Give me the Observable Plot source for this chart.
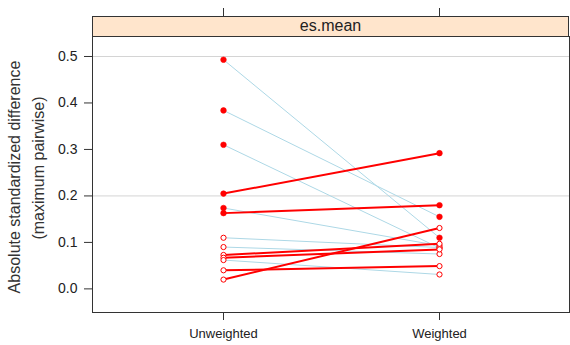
<!DOCTYPE html>
<html>
<head>
<meta charset="utf-8">
<script src="https://cdn.jsdelivr.net/npm/d3@7"></script>
<script src="https://cdn.jsdelivr.net/npm/@observablehq/plot@0.6"></script>
<style>
  html, body { margin: 0; padding: 0; background: #fff; }
  #chart { width: 570px; height: 345px; }
  svg { font-family: "Liberation Sans", Arial, sans-serif; }
</style>
</head>
<body>
<div id="chart"></div>
<script>
// ---- data ----
const categories = ["Unweighted", "Weighted"];
const unweighted = [0.493, 0.384, 0.310, 0.205, 0.174, 0.163, 0.110, 0.090, 0.073, 0.067, 0.062, 0.040, 0.020];
const weighted   = [0.110, 0.155, 0.088, 0.292, 0.093, 0.180, 0.089, 0.075, 0.097, 0.085, 0.031, 0.049, 0.131];
const unweightedSig = [1, 1, 1, 1, 1, 1, 0, 0, 0, 0, 0, 0, 0];
const weightedSig   = [1, 1, 0, 1, 0, 1, 0, 0, 0, 0, 0, 0, 0];
const yTicks = [0, 0.1, 0.2, 0.3, 0.4, 0.5];
const refLines = [0.2, 0.5];
const stripLabel = "es.mean";
const yLabelLines = ["Absolute standardized difference", "(maximum pairwise)"];

// ---- derived tables ----
const pairs = unweighted.map((u, i) => ({u, w: weighted[i], up: weighted[i] > u}));
const points = [];
unweighted.forEach((v, i) => points.push({cat: categories[0], v, sig: unweightedSig[i]}));
weighted.forEach((v, i) => points.push({cat: categories[1], v, sig: weightedSig[i]}));

const W = 570, H = 345;
const mL = 92, mR = 1, mT = 36, mB = 33;
const textColor = "#222";

const plot = Plot.plot({
  width: W,
  height: H,
  marginLeft: mL,
  marginRight: mR,
  marginTop: mT,
  marginBottom: mB,
  style: {fontFamily: "Liberation Sans, Arial, sans-serif", color: textColor, background: "white"},
  x: {type: "point", domain: categories, padding: 0.604},
  y: {domain: [-0.0508, 0.543]},
  marks: [
    Plot.ruleY(refLines, {stroke: "#d4d4d4", strokeWidth: 1}),
    Plot.link(pairs.filter(d => !d.up), {
      x1: () => categories[0], y1: "u", x2: () => categories[1], y2: "w",
      stroke: "#ADD8E6", strokeWidth: 1
    }),
    Plot.link(pairs.filter(d => d.up), {
      x1: () => categories[0], y1: "u", x2: () => categories[1], y2: "w",
      stroke: "#FF0000", strokeWidth: 2
    }),
    Plot.dot(points.filter(d => !d.sig), {x: "cat", y: "v", r: 2.6, fill: "white", stroke: "#FF0000", strokeWidth: 1}),
    Plot.dot(points.filter(d => d.sig), {x: "cat", y: "v", r: 2.8, fill: "#FF0000", stroke: "#FF0000", strokeWidth: 0.6}),
    Plot.axisY(yTicks, {anchor: "left", tickSize: 8, tickPadding: 7, tickFormat: d3.format(".1f"), fontSize: 14, stroke: "#333", fill: textColor, label: null}),
    Plot.axisY(yTicks, {anchor: "right", tickSize: 8, tickFormat: () => "", stroke: "#333", label: null}),
    Plot.axisX(categories, {anchor: "bottom", tickSize: 8, tickPadding: 8, fontSize: 13, stroke: "#333", fill: textColor, label: null}),
    Plot.frame({stroke: "#333", strokeWidth: 1})
  ]
});

document.getElementById("chart").appendChild(plot);

// ---- lattice-style strip, top ticks and y-axis title ----
const svg = d3.select(plot);
const xs = plot.scale("x");
const stripTop = 16;
const g = svg.append("g");
g.append("rect")
  .attr("x", mL + 0.5).attr("y", stripTop + 0.5)
  .attr("width", W - mL - mR - 1).attr("height", mT - stripTop)
  .attr("fill", "#FFE5CC").attr("stroke", "#333").attr("stroke-width", 1);
g.append("text")
  .attr("x", (mL + W - mR) / 2).attr("y", (stripTop + mT) / 2 + 1)
  .attr("text-anchor", "middle").attr("dominant-baseline", "middle")
  .attr("font-size", 16).attr("fill", textColor)
  .text(stripLabel);
categories.forEach(c => {
  const px = Math.round(xs.apply(c)) + 0.5;
  g.append("line")
    .attr("x1", px).attr("x2", px)
    .attr("y1", stripTop - 8).attr("y2", stripTop)
    .attr("stroke", "#333").attr("stroke-width", 1);
});
const titleX = [16, 40];
const titleY = [177, 168];
yLabelLines.forEach((t, i) => {
  g.append("text")
    .attr("transform", `translate(${titleX[i]},${titleY[i]}) rotate(-90)`)
    .attr("text-anchor", "middle").attr("dominant-baseline", "middle")
    .attr("font-size", 16).attr("fill", "#333")
    .text(t);
});
</script>
</body>
</html>
